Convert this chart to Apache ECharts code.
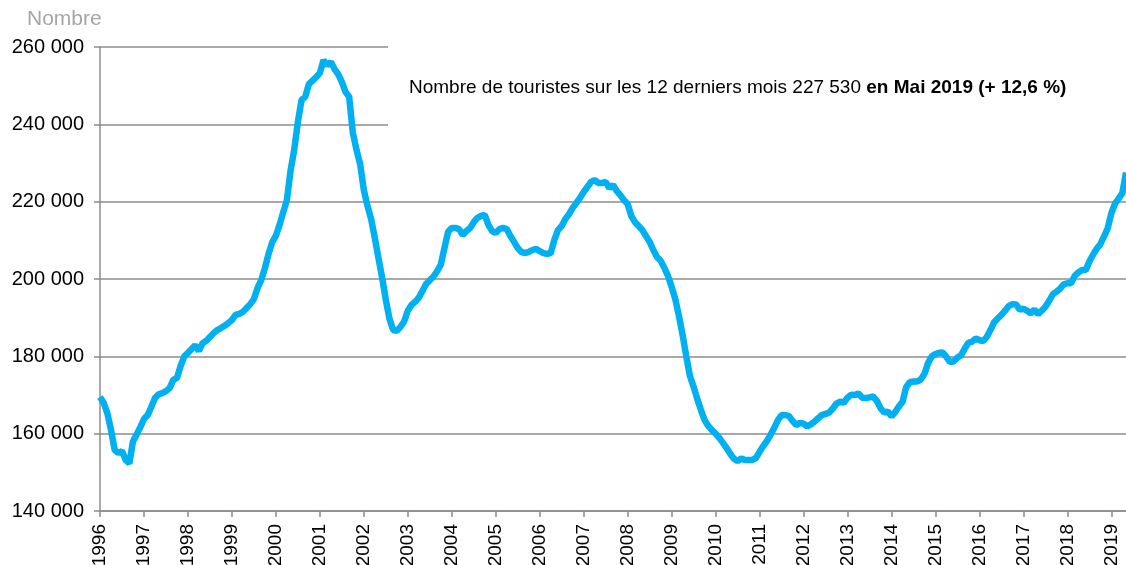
<!DOCTYPE html>
<html>
<head>
<meta charset="utf-8">
<script src="https://cdn.jsdelivr.net/npm/echarts@6/dist/echarts.min.js"></script>
<style>
  html, body { margin: 0; padding: 0; background: #fff; }
  #chart { width: 1126px; height: 565px; }
</style>
</head>
<body>
<div id="chart"></div>
<script>
// années affichées sur l'axe (janvier de chaque année)
const years = [1996, 1997, 1998, 1999, 2000, 2001, 2002, 2003, 2004, 2005, 2006, 2007,
  2008, 2009, 2010, 2011, 2012, 2013, 2014, 2015, 2016, 2017, 2018, 2019];
const lastMonth = 5; // mai 2019

// cumul des touristes sur 12 mois glissants, un point par mois
const v1996 = [169500, 168000, 165300, 161000, 155800, 155000, 155500, 153200, 152300, 158000, 159800, 161700];
const v1997 = [163800, 164800, 166900, 169200, 170200, 170500, 171000, 171800, 173900, 174400, 177500, 180000];
const v1998 = [180900, 181900, 182900, 181400, 183400, 184000, 185000, 186000, 186800, 187300, 187900, 188600];
const v1999 = [189400, 190700, 191000, 191500, 192500, 193500, 194800, 197700, 199700, 202800, 206500, 209500];
const v2000 = [211200, 214000, 217300, 220400, 228000, 233400, 240600, 246300, 247100, 250400, 251300, 252200];
const v2001 = [253300, 256600, 255300, 256100, 254300, 253000, 251000, 248400, 247100, 237800, 233400, 229700];
const v2002 = [223000, 218900, 215500, 210600, 205400, 200300, 194600, 189700, 186800, 186600, 187600, 189000];
const v2003 = [191800, 193300, 194100, 195200, 196900, 198700, 199700, 200600, 202000, 203700, 208000, 212200];
const v2004 = [213200, 213200, 212900, 211400, 212400, 213200, 214700, 215800, 216300, 216600, 214000, 212400];
const v2005 = [211900, 212900, 213200, 212900, 211100, 209600, 208000, 207000, 206700, 207000, 207500, 207800];
const v2006 = [207200, 206700, 206500, 206700, 210100, 212700, 213700, 215500, 216800, 218400, 219700, 221000];
const v2007 = [222500, 223800, 225100, 225600, 224800, 224800, 225100, 223500, 224300, 222800, 221700, 220400];
const v2008 = [219400, 216300, 214700, 213700, 212700, 211100, 209600, 207500, 205700, 204700, 202900, 200800];
const v2009 = [198000, 194800, 190400, 185500, 180000, 174900, 172100, 169000, 166100, 163500, 162000, 160900];
const v2010 = [160000, 158900, 157600, 156300, 154800, 153500, 152900, 153600, 153200, 153200, 153200, 153700];
const v2011 = [155300, 156800, 158100, 159700, 161500, 163500, 164800, 164800, 164600, 163300, 162200, 162800];
const v2012 = [162600, 161900, 162400, 163100, 164000, 164800, 165100, 165500, 166500, 167800, 168300, 168000];
const v2013 = [169300, 170100, 170000, 170400, 169300, 169200, 169400, 169600, 168500, 166600, 165500, 165700];
const v2014 = [164500, 165600, 167000, 168200, 172000, 173300, 173500, 173500, 174000, 175500, 178300, 180000];
const v2015 = [180600, 180900, 181000, 179800, 178500, 178700, 179700, 180300, 182000, 183500, 183800, 184600];
const v2016 = [184200, 183900, 185000, 186800, 188800, 189800, 190700, 191800, 193000, 193500, 193400, 192100];
const v2017 = [192300, 191800, 191100, 192100, 190900, 191800, 192800, 194300, 196000, 196700, 197500, 198600];
const v2018 = [198900, 198900, 200800, 201700, 202300, 202300, 204500, 206300, 207800, 209000, 211000, 213100];
const v2019 = [217000, 219500, 220800, 222200, 227530];

const touristes = [].concat(v1996, v1997, v1998, v1999, v2000, v2001, v2002, v2003, v2004, v2005,
  v2006, v2007, v2008, v2009, v2010, v2011, v2012, v2013, v2014, v2015, v2016, v2017, v2018, v2019);

const months = [];
years.forEach(function (y) {
  const n = y === 2019 ? lastMonth : 12;
  for (let m = 1; m <= n; m++) months.push(y + '-' + (m < 10 ? '0' + m : m));
});

const yTicks = { min: 140000, max: 260000, step: 20000 };

const fmt = function (v) {
  return String(v).replace(/\B(?=(\d{3})+(?!\d))/g, ' ');
};
const isJanuary = function (i) { return i % 12 === 0; };

const chart = echarts.init(document.getElementById('chart'));
chart.setOption({
  animation: false,
  // les étiquettes d'années débordent en bas comme sur l'original
  grid: { left: 100, right: 0, top: 47, bottom: 54, outerBoundsMode: 'none' },
  xAxis: {
    type: 'category',
    data: months,
    boundaryGap: false,
    axisLine: { lineStyle: { color: '#8c8c8c', width: 1.5 } },
    axisTick: { interval: isJanuary, length: 6, lineStyle: { color: '#8c8c8c', width: 1.5 } },
    axisLabel: {
      interval: isJanuary,
      rotate: 90,
      margin: 13,
      color: '#000',
      fontFamily: 'Liberation Sans',
      fontSize: 19,
      formatter: function (v) { return v.slice(0, 4); }
    }
  },
  yAxis: {
    type: 'value',
    min: yTicks.min,
    max: yTicks.max,
    interval: yTicks.step,
    axisLine: { show: true, lineStyle: { color: '#8c8c8c', width: 1.5 } },
    axisTick: { show: true, length: 6, lineStyle: { color: '#8c8c8c', width: 1.5 } },
    splitLine: { lineStyle: { color: '#8c8c8c', width: 1.5 } },
    axisLabel: {
      margin: 16,
      color: '#000',
      fontFamily: 'Liberation Sans',
      fontSize: 20,
      formatter: fmt
    }
  },
  graphic: [
    // cache les lignes de grille derrière le commentaire
    { type: 'rect', z: 1, shape: { x: 388, y: 36, width: 740, height: 100 }, style: { fill: '#fff' } },
    {
      type: 'text', z: 2, left: 27, top: 9,
      style: { text: 'Nombre', fill: '#a6a6a6', font: '21px "Liberation Sans"' }
    },
    {
      type: 'text', z: 2, left: 409, top: 78,
      style: {
        text: '{n|Nombre de touristes sur les 12 derniers mois 227 530 }{b|en Mai 2019 (+ 12,6 %)}',
        rich: {
          n: { fill: '#000', fontFamily: 'Liberation Sans', fontSize: 19 },
          b: { fill: '#000', fontFamily: 'Liberation Sans', fontSize: 19, fontWeight: 'bold' }
        }
      }
    }
  ],
  series: [{
    type: 'line',
    data: touristes,
    z: 5,
    showSymbol: false,
    lineStyle: { color: '#00b0f0', width: 6.5 },
    itemStyle: { color: '#00b0f0' }
  }]
});
</script>
</body>
</html>
